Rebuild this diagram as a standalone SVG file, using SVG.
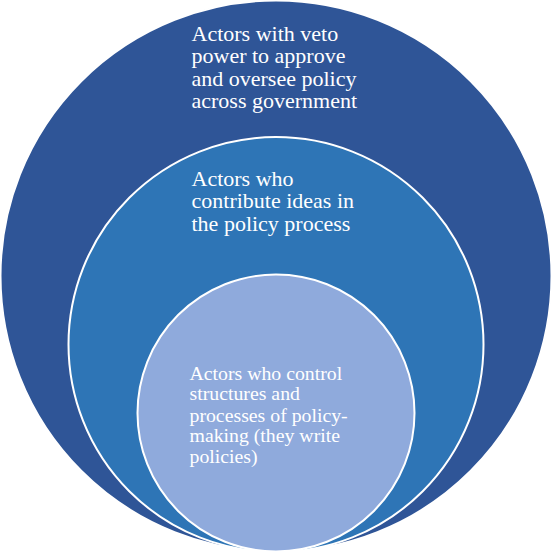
<svg xmlns="http://www.w3.org/2000/svg" width="552" height="553" viewBox="0 0 552 553">
<style>
.ring{stroke:#ffffff;stroke-width:2}
.t{font-family:"Liberation Serif","Times New Roman",serif;fill:#ffffff}
.big{font-size:22px}
.small{font-size:19.8px}
</style>
<rect width="552" height="553" fill="#ffffff"/>
<g id="outer">
<circle class="ring" cx="276" cy="276" r="275.5" fill="#2F5597" stroke="none"/>
<text class="t big" x="191.5"><tspan x="191.5" y="40.7">Actors with veto</tspan><tspan x="191.5" y="63.3">power to approve</tspan><tspan x="191.5" y="85.7">and oversee policy</tspan><tspan x="191.5" y="108.2">across government</tspan></text>
</g>
<g id="middle">
<circle class="ring" cx="276" cy="344.5" r="207.5" fill="#2E75B6"/>
<text class="t big" x="191.5"><tspan x="191.5" y="185.7">Actors who</tspan><tspan x="191.5" y="208.3">contribute ideas in</tspan><tspan x="191.5" y="231">the policy process</tspan></text>
</g>
<g id="inner">
<circle class="ring" cx="276" cy="413" r="138.5" fill="#8FAADC"/>
<text class="t small" x="189.5"><tspan x="189.5" y="379.5">Actors who control</tspan><tspan x="189.5" y="400">structures and</tspan><tspan x="189.5" y="421.5">processes of policy-</tspan><tspan x="189.5" y="442">making (they write</tspan><tspan x="189.5" y="462.5">policies)</tspan></text>
</g>
<g id="connectors"/>
</svg>
